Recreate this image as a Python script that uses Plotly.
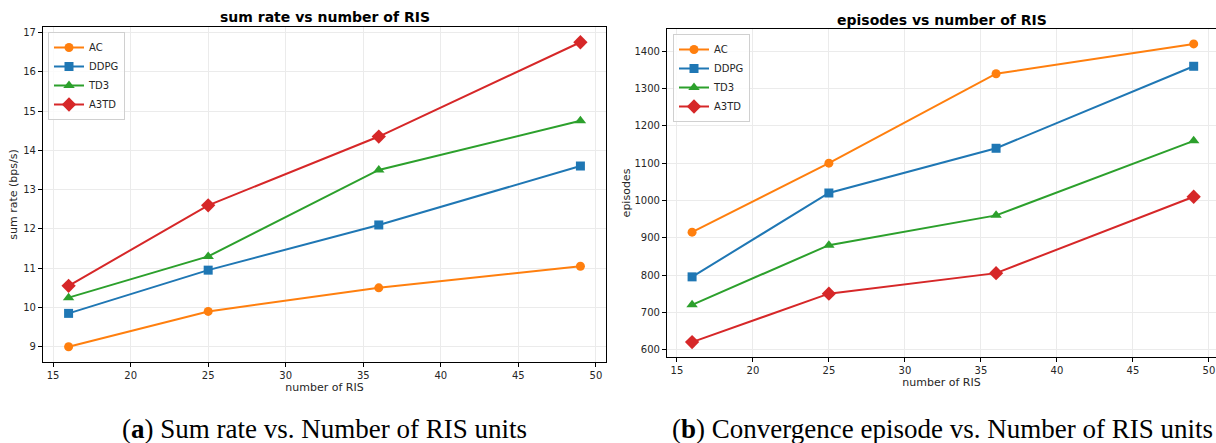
import plotly.graph_objects as go

ris = [16, 25, 36, 49]
series_names = ["AC", "DDPG", "TD3", "A3TD"]

sum_rate_ac = [9.0, 9.9, 10.5, 11.05]
sum_rate_ddpg = [9.85, 10.95, 12.1, 13.6]
sum_rate_td3 = [10.25, 11.3, 13.5, 14.75]
sum_rate_a3td = [10.55, 12.6, 14.35, 16.75]

episodes_ac = [915, 1100, 1340, 1420]
episodes_ddpg = [795, 1020, 1140, 1360]
episodes_td3 = [720, 880, 960, 1160]
episodes_a3td = [620, 750, 805, 1010]

x_ticks = [15, 20, 25, 30, 35, 40, 45, 50]
sum_rate_ticks = [9, 10, 11, 12, 13, 14, 15, 16, 17]
episode_ticks = [600, 700, 800, 900, 1000, 1100, 1200, 1300, 1400]

colors = ["#ff7f0e", "#1f77b4", "#2ca02c", "#d62728"]
symbols = ["circle", "square", "triangle-up", "diamond"]
sizes = [9, 9, 10, 11]

W, H = 1216, 443


def px_x(p):
    return p / W


def px_y(p):
    return 1 - p / H


fig = go.Figure()

left_vals = [sum_rate_ac, sum_rate_ddpg, sum_rate_td3, sum_rate_a3td]
right_vals = [episodes_ac, episodes_ddpg, episodes_td3, episodes_a3td]

for i, name in enumerate(series_names):
    fig.add_trace(go.Scatter(
        x=ris, y=left_vals[i], name=name, mode="lines+markers",
        line=dict(color=colors[i], width=2),
        marker=dict(symbol=symbols[i], size=sizes[i], color=colors[i]),
        xaxis="x", yaxis="y", legend="legend",
    ))
for i, name in enumerate(series_names):
    fig.add_trace(go.Scatter(
        x=ris, y=right_vals[i], name=name, mode="lines+markers",
        line=dict(color=colors[i], width=2),
        marker=dict(symbol=symbols[i], size=sizes[i], color=colors[i]),
        xaxis="x2", yaxis="y2", legend="legend2",
    ))

tickfont = dict(family="DejaVu Sans", size=10, color="#262626")
labelfont = dict(family="DejaVu Sans", size=11, color="#262626")
grid = "#ebebeb"

common_axis = dict(
    showline=True, linecolor="black", linewidth=1.2,
    ticks="outside", ticklen=4, tickcolor="black", tickwidth=1,
    showgrid=True, gridcolor=grid, gridwidth=1,
    zeroline=False, tickfont=tickfont, ticklabeloverflow="allow",
)

legend_common = dict(
    xanchor="left", yanchor="top",
    bgcolor="rgba(255,255,255,0.8)", bordercolor="#d0d0d0", borderwidth=1,
    font=dict(family="DejaVu Sans", size=10, color="#262626"),
    tracegroupgap=0, itemwidth=30,
)

fig.update_layout(
    width=W, height=H,
    margin=dict(l=0, r=0, t=0, b=0),
    paper_bgcolor="white", plot_bgcolor="white",
    xaxis=dict(domain=[px_x(43), px_x(606)], range=[14.35, 50.65],
               tickvals=x_ticks, mirror=True, anchor="y",
               title=dict(text="number of RIS", font=labelfont, standoff=0),
               **common_axis),
    yaxis=dict(domain=[px_y(362), px_y(27)], range=[8.6125, 17.1375],
               tickvals=sum_rate_ticks, mirror=True, anchor="x",
               title=dict(text="sum rate (bps/s)", font=labelfont, standoff=3),
               **common_axis),
    xaxis2=dict(domain=[px_x(667), 1.0], range=[14.35, 14.35 + (W - 667) / 15.2],
                tickvals=x_ticks, mirror=True, anchor="y2",
                title=dict(text="number of RIS", font=labelfont, standoff=0),
                **common_axis),
    yaxis2=dict(domain=[px_y(357), px_y(29)], range=[580, 1460],
                tickvals=episode_ticks, mirror=False, anchor="x2",
                title=dict(text="episodes", font=labelfont, standoff=1),
                **common_axis),
    legend=dict(x=px_x(48), y=px_y(32), **legend_common),
    legend2=dict(x=px_x(673), y=px_y(34), **legend_common),
    showlegend=True,
)

annotations = [
    dict(text="<b>sum rate vs number of RIS</b>", x=px_x(324.5), y=px_y(17),
         font=dict(family="DejaVu Sans", size=14, color="black")),
    dict(text="<b>episodes vs number of RIS</b>", x=px_x(942), y=px_y(20),
         font=dict(family="DejaVu Sans", size=14, color="black")),
    dict(text="(<b>a</b>) Sum rate vs. Number of RIS units", x=px_x(324), y=px_y(429),
         font=dict(family="Liberation Serif", size=27, color="black")),
    dict(text="(<b>b</b>) Convergence episode vs. Number of RIS units", x=px_x(943), y=px_y(429),
         font=dict(family="Liberation Serif", size=27, color="black")),
]
for a in annotations:
    fig.add_annotation(xref="paper", yref="paper", showarrow=False,
                       xanchor="center", yanchor="middle", **a)

fig.write_html(
    "out.html",
    config={"displayModeBar": False},
    post_script="document.body.style.margin='0';document.body.style.overflow='hidden';",
)
